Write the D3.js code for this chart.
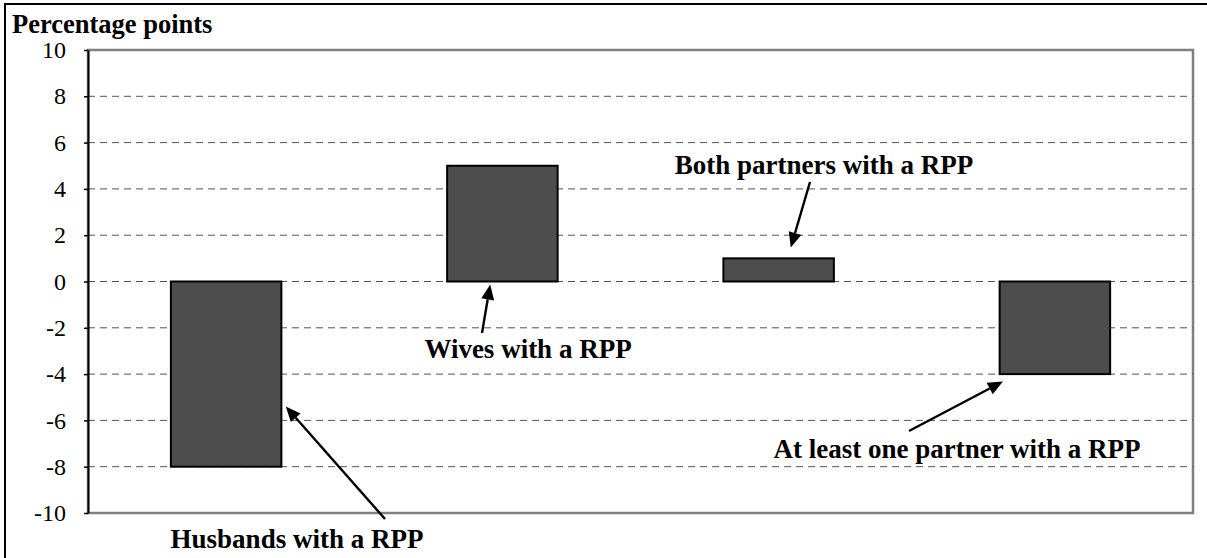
<!DOCTYPE html>
<html>
<head>
<meta charset="utf-8">
<script src="https://cdn.jsdelivr.net/npm/d3@7"></script>
<style>
  html, body { margin: 0; padding: 0; background: #fff; }
  svg { display: block; }
  text { font-family: "Liberation Serif", "Times New Roman", serif; fill: #000; }
</style>
</head>
<body>
<svg id="chart" width="1207" height="558"></svg>
<script>
// Change in share of couples with a registered pension plan (percentage points)
const categories = [
  "Husbands with a RPP",
  "Wives with a RPP",
  "Both partners with a RPP",
  "At least one partner with a RPP"
];
const values = [-8, 5, 1, -4];
const yTicks = [-10, -8, -6, -4, -2, 0, 2, 4, 6, 8, 10];
const yTitle = "Percentage points";

// Callout placement: label centre/baseline, arrow tail (px), arrow tip
// (fraction across the bar, value on the y scale)
const callouts = [
  { cx: 297, base: 548, tail: [385, 519], tipFrac: 1.04, tipVal: -5.4 },
  { cx: 528, base: 358, tail: [482, 333], tipFrac: 0.39, tipVal: -0.13 },
  { cx: 824, base: 174, tail: [810, 182], tipFrac: 0.61, tipVal: 1.47 },
  { cx: 957, base: 458, tail: [909, 431], tipFrac: 0.03, tipVal: -4.32 }
];

const svg = d3.select("#chart");
const plot = { left: 88, top: 50, right: 1193, bottom: 513 };

// Outer frame
svg.append("rect")
  .attr("x", 5).attr("y", 4)
  .attr("width", 1215).attr("height", 570)
  .attr("fill", "none").attr("stroke", "#000").attr("stroke-width", 2);

const x = d3.scaleBand()
  .domain(categories)
  .range([plot.left, plot.right])
  .paddingInner(0.6)
  .paddingOuter(0.3);

const y = d3.scaleLinear()
  .domain([-10, 10])
  .range([plot.bottom, plot.top]);

// Plot area frame (grey)
svg.append("rect")
  .attr("x", plot.left).attr("y", plot.top)
  .attr("width", plot.right - plot.left).attr("height", plot.bottom - plot.top)
  .attr("fill", "none").attr("stroke", "#808080").attr("stroke-width", 2.5);

// Dashed gridlines
svg.append("g")
  .selectAll("line")
  .data(yTicks.filter(t => t > -10 && t < 10))
  .join("line")
  .attr("x1", plot.left).attr("x2", plot.right)
  .attr("y1", d => y(d)).attr("y2", d => y(d))
  .attr("stroke", "#555")
  .attr("stroke-width", 1)
  .attr("stroke-dasharray", "7,5");

// Y axis
const yAxis = svg.append("g")
  .attr("transform", `translate(${plot.left},0)`)
  .call(d3.axisLeft(y).tickValues(yTicks).tickFormat(d => String(d))
    .tickSize(4).tickPadding(18).tickSizeOuter(0));
yAxis.select(".domain").attr("stroke", "#000").attr("stroke-width", 2);
yAxis.selectAll(".tick line").attr("stroke", "#000").attr("stroke-width", 1.5);
yAxis.selectAll(".tick text")
  .attr("font-size", 24)
  .attr("fill", "#000");

// Bars
svg.append("g")
  .selectAll("rect")
  .data(values)
  .join("rect")
  .attr("x", (d, i) => x(categories[i]))
  .attr("width", x.bandwidth())
  .attr("y", d => y(Math.max(0, d)))
  .attr("height", d => Math.abs(y(d) - y(0)))
  .attr("fill", "#4d4d4d")
  .attr("stroke", "#000")
  .attr("stroke-width", 2);

// Axis title
svg.append("text")
  .attr("x", 12).attr("y", 33)
  .attr("font-size", 26.5).attr("font-weight", "bold")
  .text(yTitle);

// Callout labels with arrows
const g = svg.append("g");
callouts.forEach((c, i) => {
  const tip = [x(categories[i]) + c.tipFrac * x.bandwidth(), y(c.tipVal)];
  const tail = c.tail;
  const dx = tip[0] - tail[0], dy = tip[1] - tail[1];
  const len = Math.hypot(dx, dy);
  const ux = dx / len, uy = dy / len;
  const headLen = 15, headW = 6.5;
  const bx = tip[0] - ux * headLen, by = tip[1] - uy * headLen;
  g.append("line")
    .attr("x1", tail[0]).attr("y1", tail[1])
    .attr("x2", bx).attr("y2", by)
    .attr("stroke", "#000").attr("stroke-width", 2.4);
  g.append("path")
    .attr("d", `M${tip[0]},${tip[1]}L${bx - uy * headW},${by + ux * headW}L${bx + uy * headW},${by - ux * headW}Z`)
    .attr("fill", "#000");
  g.append("text")
    .attr("x", c.cx).attr("y", c.base)
    .attr("text-anchor", "middle")
    .attr("font-size", 27).attr("font-weight", "bold")
    .text(categories[i]);
});
</script>
</body>
</html>
